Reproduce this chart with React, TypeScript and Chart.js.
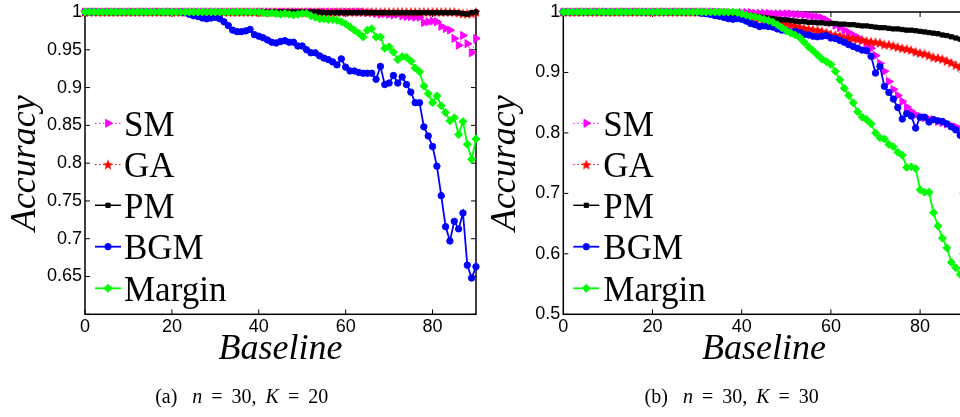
import React, { useEffect, useRef } from 'react';
import { Chart, registerables } from 'chart.js';
import { drawPoint } from 'chart.js/helpers';

Chart.register(...registerables);

// ---------------- data ----------------
const baselines = [
  0, 1, 2, 3, 4, 5, 6, 7, 8, 9,
  10, 11, 12, 13, 14, 15, 16, 17, 18, 19,
  20, 21, 22, 23, 24, 25, 26, 27, 28, 29,
  30, 31, 32, 33, 34, 35, 36, 37, 38, 39,
  40, 41, 42, 43, 44, 45, 46, 47, 48, 49,
  50, 51, 52, 53, 54, 55, 56, 57, 58, 59,
  60, 61, 62, 63, 64, 65, 66, 67, 68, 69,
  70, 71, 72, 73, 74, 75, 76, 77, 78, 79,
  80, 81, 82, 83, 84, 85, 86, 87, 88, 89,
  90,
];

const seriesNames = ['SM', 'GA', 'PM', 'BGM', 'Margin'];

// panel (a): n = 30, K = 20
const smA = [
  1, 1, 1, 1, 1, 1, 1, 1, 1, 1,
  1, 1, 1, 1, 1, 1, 1, 1, 1, 1,
  1, 1, 1, 1, 1, 1, 1, 1, 1, 1,
  1, 1, 1, 1, 1, 1, 1, 1, 1, 1,
  1, 1, 1, 1, 1, 1, 1, 1, 1, 1,
  1, 1, 1, 1, 1, 1, 1, 1, 1, 1,
  1, 1, 1, 1, 1, 0.999, 0.999, 0.998, 0.997, 0.998,
  0.997, 0.996, 0.997, 0.995, 0.994, 0.994, 0.993, 0.993, 0.986, 0.987,
  0.988, 0.987, 0.981, 0.978, 0.976, 0.965, 0.956, 0.969, 0.958, 0.946,
  0.965,
];
const gaA = [
  1, 1, 1, 1, 1, 1, 1, 1, 1, 1,
  1, 1, 1, 1, 1, 1, 1, 1, 1, 1,
  1, 1, 1, 1, 1, 1, 1, 1, 1, 1,
  1, 1, 1, 1, 1, 1, 1, 1, 1, 1,
  1, 1, 1, 1, 1, 1, 1, 1, 1, 1,
  1, 1, 1, 1, 1, 1, 1, 1, 1, 1,
  1, 1, 1, 1, 1, 1, 1, 1, 1, 1,
  1, 1, 1, 1, 1, 1, 1, 1, 1, 1,
  1, 1, 1, 1, 1, 1, 0.999, 0.998, 0.998, 0.998,
  1,
];
const pmA = [
  1, 1, 1, 1, 1, 1, 1, 1, 1, 1,
  1, 1, 1, 1, 1, 1, 1, 1, 1, 1,
  1, 1, 1, 1, 1, 1, 1, 1, 1, 1,
  1, 1, 1, 1, 1, 1, 1, 1, 1, 1,
  1, 1, 1, 1, 1, 1, 1, 1, 1, 1,
  1, 1, 1, 1, 1, 0.999, 0.999, 0.999, 0.999, 0.999,
  0.999, 0.999, 0.999, 0.999, 0.999, 0.999, 0.999, 0.999, 0.999, 0.999,
  0.999, 0.999, 0.999, 0.999, 0.999, 0.999, 0.999, 0.999, 0.999, 0.999,
  0.999, 0.999, 0.999, 0.999, 0.999, 0.999, 0.999, 0.998, 0.997, 0.999,
  1,
];
const bgmA = [
  1, 1, 1, 1, 1, 1, 1, 1, 1, 1,
  1, 1, 1, 1, 1, 1, 1, 1, 1, 1,
  1, 1, 1, 0.999, 0.997, 0.995, 0.994, 0.992, 0.991, 0.992,
  0.993, 0.991, 0.987, 0.982, 0.976, 0.974, 0.974, 0.975, 0.977, 0.970,
  0.968, 0.966, 0.963, 0.960, 0.959, 0.961, 0.962, 0.960, 0.960, 0.955,
  0.955, 0.950, 0.946, 0.946, 0.942, 0.939, 0.937, 0.934, 0.930, 0.938,
  0.927, 0.922, 0.922, 0.920, 0.919, 0.919, 0.919, 0.911, 0.928, 0.904,
  0.906, 0.916, 0.906, 0.914, 0.904, 0.894, 0.880, 0.880, 0.848, 0.836,
  0.822, 0.796, 0.757, 0.716, 0.697, 0.723, 0.713, 0.734, 0.665, 0.648,
  0.663,
];
const marginA = [
  1, 1, 1, 1, 1, 1, 1, 1, 1, 1,
  1, 1, 1, 1, 1, 1, 1, 1, 1, 1,
  1, 1, 1, 1, 1, 1, 1, 1, 1, 1,
  1, 1, 1, 1, 1, 1, 1, 1, 1, 1,
  1, 0.999, 0.998, 0.999, 0.998, 0.997, 0.998, 0.997, 0.996, 0.997,
  0.998, 0.998, 0.995, 0.993, 0.991, 0.991, 0.990, 0.990, 0.989, 0.987,
  0.984, 0.980, 0.976, 0.972, 0.967, 0.976, 0.978, 0.967, 0.967, 0.952,
  0.954, 0.947, 0.937, 0.941, 0.940, 0.935, 0.926, 0.921, 0.902, 0.892,
  0.880, 0.889, 0.876, 0.867, 0.856, 0.860, 0.838, 0.855, 0.825, 0.805,
  0.832,
];

// panel (b): n = 30, K = 30
const smB = [
  1, 1, 1, 1, 1, 1, 1, 1, 1, 1,
  1, 1, 1, 1, 1, 1, 1, 1, 1, 1,
  1, 1, 1, 1, 1, 1, 1, 1, 1, 1,
  1, 1, 1, 1, 1, 1, 0.999, 0.999, 0.998, 0.998,
  0.999, 0.999, 0.999, 0.998, 0.998, 0.998, 0.998, 0.997, 0.997, 0.997,
  0.997, 0.997, 0.996, 0.996, 0.995, 0.994, 0.993, 0.992, 0.990, 0.987,
  0.982, 0.978, 0.974, 0.970, 0.966, 0.962, 0.958, 0.953, 0.946, 0.940,
  0.928, 0.915, 0.902, 0.885, 0.872, 0.862, 0.852, 0.843, 0.836, 0.830,
  0.827, 0.825, 0.823, 0.822, 0.819, 0.817, 0.815, 0.812, 0.810, 0.806,
  0.802,
];
const gaB = [
  1, 1, 1, 1, 1, 1, 1, 1, 1, 1,
  1, 1, 1, 1, 1, 1, 1, 1, 1, 1,
  1, 1, 1, 1, 1, 1, 1, 1, 1, 1,
  1, 1, 1, 1, 0.999, 0.998, 0.997, 0.996, 0.995, 0.994,
  0.993, 0.992, 0.991, 0.990, 0.989, 0.988, 0.987, 0.986, 0.985, 0.983,
  0.981, 0.979, 0.977, 0.975, 0.973, 0.972, 0.971, 0.970, 0.968, 0.966,
  0.963, 0.962, 0.960, 0.958, 0.957, 0.956, 0.955, 0.954, 0.952, 0.951,
  0.950, 0.949, 0.946, 0.946, 0.944, 0.942, 0.940, 0.939, 0.937, 0.934,
  0.932, 0.931, 0.928, 0.925, 0.924, 0.922, 0.919, 0.916, 0.912, 0.909,
  0.907,
];
const pmB = [
  1, 1, 1, 1, 1, 1, 1, 1, 1, 1,
  1, 1, 1, 1, 1, 1, 1, 1, 1, 1,
  1, 1, 1, 1, 1, 1, 1, 1, 1, 1,
  1, 1, 1, 1, 0.999, 0.999, 0.998, 0.997, 0.997, 0.996,
  0.995, 0.995, 0.994, 0.993, 0.992, 0.991, 0.990, 0.989, 0.988, 0.987,
  0.987, 0.986, 0.985, 0.984, 0.984, 0.983, 0.983, 0.982, 0.982, 0.981,
  0.981, 0.981, 0.980, 0.980, 0.979, 0.979, 0.978, 0.977, 0.977, 0.976,
  0.975, 0.974, 0.974, 0.973, 0.972, 0.972, 0.971, 0.970, 0.970, 0.969,
  0.968, 0.967, 0.966, 0.965, 0.964, 0.962, 0.961, 0.959, 0.957, 0.955,
  0.954,
];
const bgmB = [
  1, 1, 1, 1, 1, 1, 1, 1, 1, 1,
  1, 1, 1, 1, 1, 1, 1, 1, 1, 1,
  1, 1, 1, 1, 1, 1, 1, 1, 1, 1,
  0.999, 0.998, 0.997, 0.996, 0.994, 0.993, 0.991, 0.989, 0.988, 0.989,
  0.988, 0.985, 0.981, 0.979, 0.976, 0.977, 0.976, 0.975, 0.972, 0.970,
  0.969, 0.967, 0.968, 0.966, 0.963, 0.962, 0.960, 0.959, 0.960, 0.961,
  0.957, 0.956, 0.953, 0.950, 0.946, 0.943, 0.940, 0.937, 0.936, 0.927,
  0.899, 0.910, 0.877, 0.867, 0.856, 0.842, 0.823, 0.832, 0.828, 0.808,
  0.826, 0.826, 0.818, 0.822, 0.820, 0.819, 0.815, 0.810, 0.805, 0.796,
  0.792,
];
const marginB = [
  1, 1, 1, 1, 1, 1, 1, 1, 1, 1,
  1, 1, 1, 1, 1, 1, 1, 1, 1, 1,
  1, 1, 1, 1, 1, 1, 1, 1, 1, 1,
  1, 1, 1, 1, 1, 1, 1, 1, 1, 0.999,
  0.997, 0.995, 0.993, 0.992, 0.990, 0.988, 0.986, 0.983, 0.979, 0.974,
  0.969, 0.965, 0.962, 0.958, 0.950, 0.942, 0.936, 0.929, 0.922, 0.918,
  0.913, 0.902, 0.888, 0.874, 0.862, 0.850, 0.835, 0.826, 0.822, 0.815,
  0.800, 0.792, 0.790, 0.781, 0.777, 0.768, 0.763, 0.743, 0.744, 0.741,
  0.706, 0.702, 0.702, 0.668, 0.646, 0.626, 0.610, 0.586, 0.577, 0.566,
  0.556,
];

const xTicks = [0, 20, 40, 60, 80];
const xTickLabels = ['0', '20', '40', '60', '80'];
const yTicksA = [0.6, 0.65, 0.7, 0.75, 0.8, 0.85, 0.9, 0.95, 1];
const yTickLabelsA = ['', '0.65', '0.7', '0.75', '0.8', '0.85', '0.9', '0.95', '1'];
const yTicksB = [0.5, 0.6, 0.7, 0.8, 0.9, 1];
const yTickLabelsB = ['0.5', '0.6', '0.7', '0.8', '0.9', '1'];

const captionN = [30, 30];
const captionK = [20, 30];
const captionTags = ['(a)', '(b)'];

// ---------------- styles ----------------
let starCanvas: HTMLCanvasElement | null = null;
function getStar(): HTMLCanvasElement {
  if (starCanvas) return starCanvas;
  const c = document.createElement('canvas');
  c.width = 12;
  c.height = 12;
  const g = c.getContext('2d')!;
  g.fillStyle = '#ff0000';
  g.beginPath();
  for (let i = 0; i < 10; i++) {
    const r = i % 2 === 0 ? 5.6 : 2.3;
    const a = -Math.PI / 2 + (i * Math.PI) / 5;
    const px = 6 + r * Math.cos(a);
    const py = 6.4 + r * Math.sin(a);
    if (i === 0) g.moveTo(px, py);
    else g.lineTo(px, py);
  }
  g.closePath();
  g.fill();
  starCanvas = c;
  return c;
}

function seriesStyle(name: string) {
  switch (name) {
    case 'SM':
      return { color: '#ff00ff', width: 1, dash: [1.5, 2.5], pointStyle: 'triangle', rotation: 90, radius: 4.6, order: 5 };
    case 'GA':
      return { color: '#ff0000', width: 1, dash: [1.5, 2.5], pointStyle: getStar(), rotation: 0, radius: 4.5, order: 4 };
    case 'PM':
      return { color: '#000000', width: 1.5, dash: [], pointStyle: 'rect', rotation: 0, radius: 3, order: 3 };
    case 'BGM':
      return { color: '#0000ff', width: 1.8, dash: [], pointStyle: 'circle', rotation: 0, radius: 3.2, order: 2 };
    default:
      return { color: '#00ff00', width: 1.8, dash: [], pointStyle: 'rectRot', rotation: 0, radius: 4, order: 1 };
  }
}

function buildDatasets(series: number[][]) {
  return series.map((vals, si) => {
    const name = seriesNames[si];
    const s = seriesStyle(name);
    return {
      label: name,
      data: vals.map((v, i) => ({ x: baselines[i], y: v })),
      borderColor: s.color,
      backgroundColor: s.color,
      borderWidth: s.width,
      borderDash: s.dash,
      pointStyle: s.pointStyle as any,
      pointRotation: s.rotation,
      pointRadius: s.radius,
      pointBackgroundColor: s.color,
      pointBorderColor: s.color,
      pointBorderWidth: 1,
      tension: 0,
      clip: false as any,
      order: s.order,
    };
  });
}

// ---------------- plugins ----------------
const framePlugin = {
  id: 'matlabFrame',
  beforeDatasetsDraw(chart: any) {
    const { ctx, chartArea, scales } = chart;
    const { left, right, top, bottom } = chartArea;
    ctx.save();
    ctx.strokeStyle = '#000';
    ctx.lineWidth = 1.5;
    ctx.strokeRect(left, top, right - left, bottom - top);
    const L = 5;
    ctx.lineWidth = 1;
    ctx.beginPath();
    scales.x.ticks.forEach((t: any) => {
      const px = scales.x.getPixelForValue(t.value);
      ctx.moveTo(px, bottom);
      ctx.lineTo(px, bottom - L);
      ctx.moveTo(px, top);
      ctx.lineTo(px, top + L);
    });
    scales.y.ticks.forEach((t: any) => {
      const py = scales.y.getPixelForValue(t.value);
      ctx.moveTo(left, py);
      ctx.lineTo(left + L, py);
      ctx.moveTo(right, py);
      ctx.lineTo(right - L, py);
    });
    ctx.stroke();
    ctx.restore();
  },
};

const insideLegendPlugin = {
  id: 'insideLegend',
  afterDraw(chart: any, _args: any, opts: any) {
    const { ctx } = chart;
    const { x0, x1, textX, ys } = opts;
    chart.data.datasets.forEach((ds: any, i: number) => {
      const y = ys[i];
      ctx.save();
      ctx.strokeStyle = ds.borderColor;
      ctx.lineWidth = ds.borderWidth;
      ctx.setLineDash(ds.borderDash || []);
      ctx.beginPath();
      ctx.moveTo(x0, y);
      ctx.lineTo(x1, y);
      ctx.stroke();
      ctx.setLineDash([]);
      ctx.fillStyle = ds.pointBackgroundColor;
      ctx.strokeStyle = ds.pointBorderColor;
      ctx.lineWidth = ds.pointBorderWidth;
      drawPoint(
        ctx,
        { pointStyle: ds.pointStyle, rotation: ds.pointRotation || 0, radius: ds.pointRadius, borderWidth: ds.pointBorderWidth } as any,
        (x0 + x1) / 2,
        y
      );
      ctx.fillStyle = '#000';
      ctx.font = "35px 'Liberation Serif'";
      ctx.textAlign = 'left';
      ctx.textBaseline = 'alphabetic';
      ctx.fillText(ds.label, textX, y + 12.5);
      ctx.restore();
    });
  },
};

// ---------------- config ----------------
function makeConfig(p: {
  series: number[][];
  yMin: number;
  yTicks: number[];
  yLabels: string[];
  yWidth: number;
  padRight: number;
  legend: { x0: number; x1: number; textX: number; ys: number[] };
}) {
  const tickFont = { family: "'Liberation Sans', Arial, sans-serif", size: 18, lineHeight: 1 };
  const titleFont = { family: "'Liberation Serif', 'Times New Roman', serif", size: 36, style: 'italic' as const, lineHeight: 1 };
  return {
    type: 'line' as const,
    data: { datasets: buildDatasets(p.series) },
    plugins: [framePlugin, insideLegendPlugin],
    options: {
      responsive: false,
      animation: false as const,
      layout: { autoPadding: false, padding: { top: 8.3, right: p.padRight, left: 0, bottom: 0 } },
      plugins: {
        legend: { display: false },
        tooltip: { enabled: false },
        insideLegend: p.legend,
      },
      scales: {
        x: {
          type: 'linear' as const,
          min: 0,
          max: 90,
          grid: { display: false, drawTicks: false },
          border: { display: false },
          afterBuildTicks: (scale: any) => {
            scale.ticks = xTicks.map((v) => ({ value: v }));
          },
          ticks: {
            autoSkip: false,
            maxRotation: 0,
            padding: 4.2,
            color: '#000',
            font: tickFont,
            callback: (_v: any, idx: number) => xTickLabels[idx],
          },
          title: {
            display: true,
            text: 'Baseline',
            color: '#000',
            font: titleFont,
            padding: { top: 0, bottom: 49 },
          },
          afterFit: (scale: any) => {
            scale.height = 102.7;
          },
        },
        y: {
          type: 'linear' as const,
          min: p.yMin,
          max: 1,
          grid: { display: false, drawTicks: false },
          border: { display: false },
          afterBuildTicks: (scale: any) => {
            scale.ticks = p.yTicks.map((v) => ({ value: v }));
          },
          ticks: {
            autoSkip: false,
            padding: 3,
            color: '#000',
            font: tickFont,
            callback: (_v: any, idx: number) => p.yLabels[idx],
          },
          title: {
            display: true,
            text: 'Accuracy',
            color: '#000',
            font: titleFont,
            padding: { top: 8, bottom: 0 },
          },
          afterFit: (scale: any) => {
            scale.width = p.yWidth;
          },
        },
      },
    },
  };
}

const legendYs = [123.3, 164.6, 205.3, 246.7, 288.3];

const configA = () =>
  makeConfig({
    series: [smA, gaA, pmA, bgmA, marginA],
    yMin: 0.6,
    yTicks: yTicksA,
    yLabels: yTickLabelsA,
    yWidth: 85,
    padRight: 4,
    legend: { x0: 95, x1: 121, textX: 124, ys: legendYs },
  });

const configB = () =>
  makeConfig({
    series: [smB, gaB, pmB, bgmB, marginB],
    yMin: 0.5,
    yTicks: yTicksB,
    yLabels: yTickLabelsB,
    yWidth: 83.3,
    padRight: 5.3,
    legend: { x0: 93.3, x1: 119.3, textX: 123.3, ys: legendYs },
  });

function Panel({ make, left, width }: { make: () => any; left: number; width: number }) {
  const ref = useRef<HTMLCanvasElement>(null);
  useEffect(() => {
    const chart = new Chart(ref.current as HTMLCanvasElement, make());
    return () => chart.destroy();
  }, []);
  return (
    <canvas
      ref={ref}
      width={width}
      height={417}
      style={{ position: 'absolute', left, top: 0, width, height: 417 }}
    />
  );
}

function Caption({ idx, center }: { idx: number; center: number }) {
  const eq = { margin: '0 9px' };
  return (
    <div
      style={{
        position: 'absolute',
        left: center,
        top: 386,
        transform: 'translateX(-50%)',
        font: "20px 'Liberation Serif', serif",
        lineHeight: '20px',
        whiteSpace: 'nowrap',
        color: '#000',
      }}
    >
      {captionTags[idx]}
      <i style={{ marginLeft: 15 }}>n</i>
      <span style={eq}>=</span>
      {captionN[idx]},<i style={{ marginLeft: 9 }}>K</i>
      <span style={eq}>=</span>
      {captionK[idx]}
    </div>
  );
}

export default function App() {
  return (
    <div
      style={{
        position: 'fixed',
        left: 0,
        top: 0,
        width: 960,
        height: 417,
        overflow: 'hidden',
        background: '#fff',
      }}
    >
      <Panel make={configA} left={0} width={480} />
      <Panel make={configB} left={480} width={490} />
      <Caption idx={0} center={241.7} />
      <Caption idx={1} center={731.7} />
    </div>
  );
}
